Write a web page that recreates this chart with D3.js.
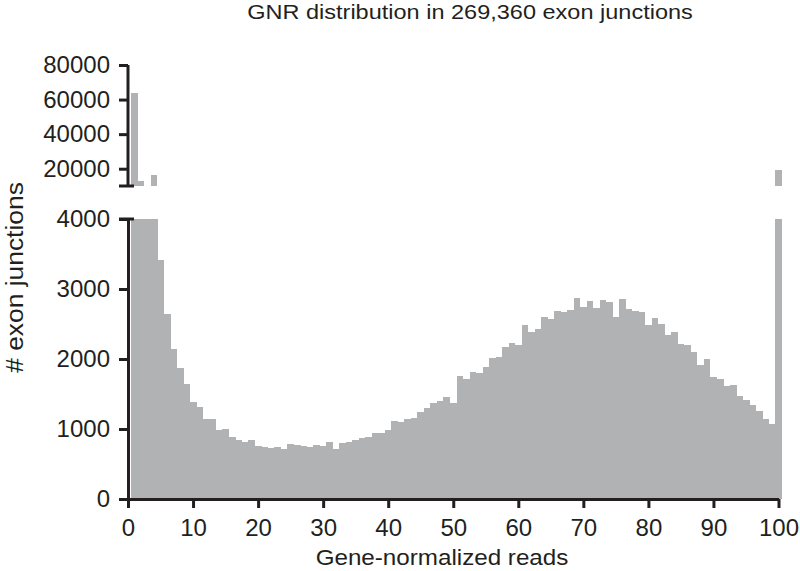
<!DOCTYPE html>
<html>
<head>
<meta charset="utf-8">
<script src="https://d3js.org/d3.v7.min.js"></script>
<style>
  body { margin: 0; background: #fff; }
  text { font-family: "Liberation Sans", Arial, Helvetica, sans-serif; fill: #231f20; }
</style>
</head>
<body>
<div id="chart"></div>
<script>
//Canvas dimensions
var width = 800,
    height = 571;

//Histogram bins (gene-normalized reads, bin centre) and number of exon junctions
var bins = d3.range(1, 101);
var counts = [
  63600, 13000, 9000, 16400, 3420, 2650, 2140, 1870, 1650, 1380,
  1320, 1150, 1140, 980, 1000, 880, 850, 810, 850, 760,
  740, 730, 740, 710, 780, 770, 760, 750, 770, 760,
  820, 710, 795, 820, 850, 870, 890, 940, 950, 980,
  1120, 1095, 1140, 1160, 1250, 1305, 1365, 1405, 1460, 1365,
  1760, 1720, 1820, 1795, 1890, 2020, 2035, 2175, 2225, 2200,
  2480, 2385, 2425, 2595, 2575, 2680, 2670, 2700, 2875, 2750,
  2830, 2735, 2845, 2820, 2605, 2855, 2720, 2690, 2670, 2480,
  2585, 2500, 2350, 2385, 2215, 2205, 2105, 1920, 1995, 1750,
  1720, 1620, 1630, 1475, 1415, 1345, 1260, 1150, 1070, 19300
];

//Tick labels
var xTicks = [0, 10, 20, 30, 40, 50, 60, 70, 80, 90, 100],
    yTicksLow = [0, 1000, 2000, 3000, 4000],
    yTicksHigh = [20000, 40000, 60000, 80000];

var title = "GNR distribution in 269,360 exon junctions",
    xLabel = "Gene-normalized reads",
    yLabel = "# exon junctions";

var data = bins.map(function(d, i) { return {bin: d, count: counts[i]}; });

var axisColor = "#231f20",
    barColor = "#b1b2b4";

var svg = d3.select("#chart")
    .append("svg")
    .attr("width", width)
    .attr("height", height);

//Scales: one x scale, two y scales for the broken axis
var x = d3.scaleLinear().domain([0, 100]).range([128, 778.5]);
var yLow = d3.scaleLinear().domain([0, 4000]).range([499, 219]);
var yHigh = d3.scaleLinear().domain([10000, 80000]).range([186, 65]);

//Bars of the lower segment (capped at 4000)
svg.append("g")
    .selectAll("rect")
    .data(data)
    .enter()
    .append("rect")
    .attr("x", function(d) { return x(d.bin - 0.5); })
    .attr("width", function(d) { return x(d.bin + 0.5) - x(d.bin - 0.5) + 0.3; })
    .attr("y", function(d) { return yLow(Math.min(d.count, 4000)); })
    .attr("height", function(d) { return yLow(0) - yLow(Math.min(d.count, 4000)); })
    .attr("fill", barColor)
    .attr("shape-rendering", "crispEdges");

//Bars of the upper segment (only what is above 10000)
svg.append("g")
    .selectAll("rect")
    .data(data.filter(function(d) { return d.count > 10000; }))
    .enter()
    .append("rect")
    .attr("x", function(d) { return x(d.bin - 0.5); })
    .attr("width", function(d) { return x(d.bin + 0.5) - x(d.bin - 0.5); })
    .attr("y", function(d) { return yHigh(d.count); })
    .attr("height", function(d) { return yHigh(10000) - yHigh(d.count); })
    .attr("fill", barColor)
    .attr("shape-rendering", "crispEdges");

//Axes
function styleAxis(g) {
    g.selectAll("path, line").attr("stroke", axisColor).attr("stroke-width", 3);
    g.selectAll("text").attr("font-size", "24px").attr("fill", axisColor)
        .attr("font-family", "Liberation Sans, Arial, sans-serif");
}

var xAxis = svg.append("g")
    .attr("transform", "translate(0," + yLow(0) + ")")
    .call(d3.axisBottom(x).tickValues(xTicks).tickSize(9).tickSizeOuter(0).tickPadding(11));
styleAxis(xAxis);

var yAxisLow = svg.append("g")
    .attr("transform", "translate(" + x(0) + ",0)")
    .call(d3.axisLeft(yLow).tickValues(yTicksLow).tickSize(9).tickSizeOuter(0).tickPadding(9)
        .tickFormat(d3.format("d")));
styleAxis(yAxisLow);

var yAxisHigh = svg.append("g")
    .attr("transform", "translate(" + x(0) + ",0)")
    .call(d3.axisLeft(yHigh).tickValues(yTicksHigh).tickSize(9).tickSizeOuter(0).tickPadding(9)
        .tickFormat(d3.format("d")));
styleAxis(yAxisHigh);
//extend the top axis line down to the break
yAxisHigh.select(".domain").attr("d", "M0," + yHigh(80000) + "V" + yHigh(10000));

//Small horizontal caps at the axis break
[yHigh(10000), yLow(4000)].forEach(function(yy) {
    svg.append("line")
        .attr("x1", x(0) - 9).attr("x2", x(0) + 6)
        .attr("y1", yy).attr("y2", yy)
        .attr("stroke", axisColor)
        .attr("stroke-width", 3);
});

//Titles (slightly stretched along the baseline like the original lettering)
svg.append("text")
    .attr("transform", "translate(470,18.5) scale(1.12,1)")
    .attr("text-anchor", "middle")
    .attr("font-size", "21px")
    .text(title);

svg.append("text")
    .attr("transform", "translate(442,565) scale(1.1,1)")
    .attr("text-anchor", "middle")
    .attr("font-size", "22px")
    .text(xLabel);

svg.append("text")
    .attr("transform", "translate(23,277.5) rotate(-90) scale(1.1,1)")
    .attr("text-anchor", "middle")
    .attr("font-size", "24px")
    .text(yLabel);
</script>
</body>
</html>
